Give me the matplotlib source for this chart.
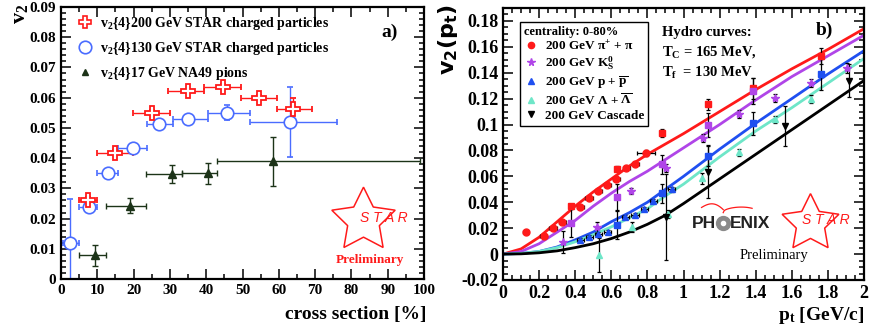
import matplotlib
matplotlib.use("Agg")
import matplotlib.pyplot as plt
from matplotlib.ticker import MultipleLocator
from matplotlib.lines import Line2D
import numpy as np

plt.rcParams['font.family'] = ['Liberation Serif', 'DejaVu Serif']
plt.rcParams['font.weight'] = 'bold'
plt.rcParams['mathtext.fontset'] = 'custom'
plt.rcParams['mathtext.rm'] = 'Liberation Serif:bold'
plt.rcParams['mathtext.it'] = 'Liberation Serif:italic:bold'
plt.rcParams['mathtext.bf'] = 'Liberation Serif:bold'
plt.rcParams['mathtext.default'] = 'rm'

# ---------------- Panel a) data ----------------
a200_x = [7.4, 14.9, 25.0, 35.0, 44.5, 54.5, 64.0]
a200_xlo = [5.0, 9.9, 19.8, 29.5, 39.4, 49.6, 59.5]
a200_xhi = [9.9, 19.8, 30.0, 39.4, 49.6, 59.5, 69.2]
a200_y = [0.0262, 0.0418, 0.0550, 0.0622, 0.0636, 0.0600, 0.0563]
a200_ye = [0.0008, 0.0008, 0.0008, 0.0008, 0.0008, 0.0008, 0.0035]

a130_x = [2.5, 7.7, 13.0, 19.7, 27.0, 35.0, 45.8, 63.0]
a130_xlo = [0.6, 5.0, 10.0, 15.7, 23.6, 30.8, 40.6, 52.0]
a130_xhi = [5.0, 10.0, 15.7, 23.6, 30.8, 40.6, 52.0, 76.0]
a130_y = [0.0119, 0.0238, 0.0350, 0.0433, 0.0512, 0.0530, 0.0550, 0.0520]
a130_ylo = [0.0119, 0.0015, 0.0005, 0.0005, 0.0005, 0.0005, 0.0025, 0.0115]
a130_yhi = [0.0146, 0.0015, 0.0005, 0.0005, 0.0005, 0.0005, 0.0025, 0.0116]

a17_x = [9.4, 19.0, 30.6, 40.6, 58.3]
a17_xlo = [5.0, 12.4, 23.4, 33.3, 43.0]
a17_xhi = [12.4, 23.4, 33.3, 43.0, 99.0]
a17_y = [0.0078, 0.0242, 0.0347, 0.0350, 0.0389]
a17_ye = [0.0036, 0.0025, 0.0030, 0.0035, 0.0080]

# ---------------- Panel b) data ----------------
pi_x = [0.126, 0.225, 0.277, 0.329, 0.428, 0.476, 0.528, 0.578, 0.628, 0.683, 0.733, 0.794]
pi_xe = [0.015, 0.02, 0.02, 0.02, 0.02, 0.02, 0.02, 0.02, 0.02, 0.02, 0.02, 0.05]
pi_y = [0.0172, 0.0139, 0.0198, 0.0250, 0.0365, 0.0435, 0.0487, 0.0533, 0.0580, 0.0666, 0.0692, 0.0780]
pi_ye = [0.0015, 0.0015, 0.0015, 0.0015, 0.0015, 0.0015, 0.0015, 0.0015, 0.0015, 0.0015, 0.0015, 0.0025]

pi_ph_x = [0.379, 0.632, 0.883, 1.134, 1.387, 1.764]
pi_ph_y = [0.0370, 0.0660, 0.0937, 0.1156, 0.1280, 0.1530]
pi_ph_ye = [0.0020, 0.0020, 0.0030, 0.0040, 0.0080, 0.0060]

k_x = [0.332, 0.521, 0.711, 0.905, 1.106, 1.307, 1.507, 1.706, 1.904]
k_y = [0.0090, 0.0206, 0.0487, 0.0666, 0.0898, 0.1080, 0.1207, 0.1318, 0.1439]
k_ye = [0.0085, 0.0040, 0.0020, 0.0030, 0.0030, 0.0030, 0.0030, 0.0030, 0.0040]

k_ph_x = [0.379, 0.632, 0.883, 1.134, 1.387]
k_ph_y = [0.0242, 0.0438, 0.0692, 0.0996, 0.1260]
k_ph_ye = [0.0110, 0.0100, 0.0070, 0.0090, 0.0100]

p_x = [0.428, 0.478, 0.528, 0.579, 0.678, 0.731, 0.783, 0.833, 0.934]
p_y = [0.0108, 0.0134, 0.0154, 0.0172, 0.0288, 0.0301, 0.0347, 0.0411, 0.0499]
p_ye = [0.0015, 0.0015, 0.0015, 0.0015, 0.0015, 0.0015, 0.0015, 0.0015, 0.0020]

p_ph_x = [0.632, 0.883, 1.134, 1.387, 1.764]
p_ph_y = [0.0224, 0.0468, 0.0759, 0.1010, 0.1390]
p_ph_ye = [0.0110, 0.0070, 0.0080, 0.0090, 0.0120]

lam_x = [0.534, 0.717, 0.914, 1.104, 1.307, 1.507, 1.706]
lam_y = [-0.0008, 0.0210, 0.0310, 0.0584, 0.0785, 0.1040, 0.1200]
lam_ye = [0.0130, 0.0040, 0.0030, 0.0040, 0.0030, 0.0030, 0.0030]

xi_x = [0.903, 1.134, 1.562, 1.919]
xi_y = [0.0288, 0.0636, 0.0988, 0.1340]
xi_ye = [0.0330, 0.0200, 0.0155, 0.0130]

# hydro curves
hx = [0, 0.1, 0.2, 0.3, 0.4, 0.5, 0.6, 0.7, 0.8, 0.9, 1.0, 1.2, 1.4, 1.6, 1.8, 2.0]
h_pi = [0, 0.004, 0.013, 0.025, 0.037, 0.048, 0.058, 0.068, 0.077, 0.085, 0.093, 0.110, 0.127, 0.143, 0.158, 0.174]
h_k = [0, 0.002, 0.008, 0.017, 0.026, 0.037, 0.047, 0.056, 0.064, 0.073, 0.082, 0.100, 0.119, 0.137, 0.153, 0.169]
h_p = [0, 0.0005, 0.002, 0.0055, 0.011, 0.017, 0.025, 0.032, 0.040, 0.050, 0.060, 0.081, 0.101, 0.120, 0.139, 0.157]
h_lam = [0, 0.0005, 0.002, 0.005, 0.0095, 0.015, 0.021, 0.028, 0.035, 0.045, 0.054, 0.075, 0.095, 0.113, 0.132, 0.151]
h_xi = [0, 0.0002, 0.001, 0.0025, 0.005, 0.008, 0.012, 0.017, 0.023, 0.030, 0.039, 0.058, 0.077, 0.096, 0.115, 0.134]

RED = '#ff1a1a'
BLUE_A = '#4a6cff'
DGREEN = '#1c3318'
PURPLE = '#b045e8'
BLUE = '#1f4ff0'
CYAN = '#6ee6c8'

fig = plt.figure(figsize=(8.72, 3.33), dpi=100)
axa = fig.add_axes([61/872, 1-279/333, 363/872, 272/333])
axb = fig.add_axes([503/872, 1-280/333, 361/872, 272/333])

def style(ax, fs):
    for s in ax.spines.values():
        s.set_linewidth(1.6)
    ax.tick_params(which='both', direction='in', top=True, right=True, width=1.1, labelsize=fs)
    ax.tick_params(which='major', length=7)
    ax.tick_params(which='minor', length=3.5)
    for lab in ax.get_xticklabels() + ax.get_yticklabels():
        lab.set_fontweight('bold')

# ---------- Panel a ----------
def xerr(x, lo, hi):
    return [np.array(x) - np.array(lo), np.array(hi) - np.array(x)]

axa.errorbar(a17_x, a17_y, xerr=xerr(a17_x, a17_xlo, a17_xhi), yerr=a17_ye, fmt='^', color=DGREEN,
             ms=6, elinewidth=1.0, capsize=2.5, capthick=1.0)
axa.errorbar(a130_x, a130_y, xerr=xerr(a130_x, a130_xlo, a130_xhi), yerr=[a130_ylo, a130_yhi], fmt='o',
             color=BLUE_A, mfc='white', mec=BLUE_A, ms=9, mew=1.2, elinewidth=1.0, capsize=2.5, capthick=1.0)
axa.errorbar(a200_x, a200_y, xerr=xerr(a200_x, a200_xlo, a200_xhi), yerr=a200_ye, fmt='P',
             color=RED, mfc='white', mec=RED, ms=9.5, mew=1.3, elinewidth=1.0, capsize=2.5, capthick=1.0)
axa.set_xlim(0, 100)
axa.set_ylim(0, 0.09)
axa.xaxis.set_major_locator(MultipleLocator(10))
axa.xaxis.set_minor_locator(MultipleLocator(5))
axa.yaxis.set_major_locator(MultipleLocator(0.01))
axa.yaxis.set_minor_locator(MultipleLocator(0.002))
axa.set_yticks([0, 0.01, 0.02, 0.03, 0.04, 0.05, 0.06, 0.07, 0.08, 0.09])
axa.set_yticklabels(['0', '0.01', '0.02', '0.03', '0.04', '0.05', '0.06', '0.07', '0.08', '0.09'])
style(axa, 11)

hla = [Line2D([], [], ls='none', marker='P', ms=9, mfc='white', mec=RED, mew=1.2),
       Line2D([], [], ls='none', marker='o', ms=9, mfc='white', mec=BLUE_A, mew=1.2),
       Line2D([], [], ls='none', marker='^', ms=4.5, color=DGREEN)]
laba = ['v$_2${4}200 GeV STAR charged particles',
        'v$_2${4}130 GeV STAR charged particles',
        'v$_2${4}17 GeV NA49 pions']
axa.legend(hla, laba, loc='upper left', bbox_to_anchor=(0.02, 1.0), frameon=False,
           prop={'family': 'Liberation Serif', 'weight': 'bold', 'size': 10},
           handlelength=1.2, handletextpad=0.5, labelspacing=0.55, borderaxespad=0.2)
axa.text(90.6, 0.0817, 'a)', fontsize=14, fontweight='bold', ha='center', va='center')

# STAR logo panel a
axa.plot([83.2], [0.0196], marker=(5, 1, 0), ms=48, mfc='none', mec=RED, mew=1.1, ls='none')
axa.text(89.0, 0.0202, 'S T A R', color=RED, fontsize=10, style='italic', fontweight='normal',
         family='Liberation Sans', ha='center', va='center')
axa.text(85.1, 0.0063, 'Preliminary', color=RED, fontsize=9.5, fontweight='bold', ha='center', va='center')

fig.text(20/872, 1-14/333, 'v$_2$', rotation=90, fontsize=16, fontweight='bold', ha='center', va='center')
fig.text(426/872, 1-315/333, 'cross section [%]', fontsize=14, fontweight='bold', ha='right', va='center')

# ---------- Panel b ----------
axb.plot(hx, h_pi, color=RED, lw=2.0)
axb.plot(hx, h_k, color=PURPLE, lw=2.0)
axb.plot(hx, h_p, color=BLUE, lw=2.0)
axb.plot(hx, h_lam, color=CYAN, lw=2.0)
axb.plot(hx, h_xi, color='black', lw=2.0)

ekw = dict(ecolor='black', elinewidth=0.9, capsize=1.5, capthick=0.9, ls='none')
axb.errorbar(pi_x, pi_y, xerr=pi_xe, yerr=pi_ye, fmt='o', mfc=RED, mec=RED, ms=5, **ekw)
axb.errorbar(pi_ph_x, pi_ph_y, yerr=pi_ph_ye, fmt='s', mfc=RED, mec=RED, ms=4.5, **ekw)
axb.errorbar(k_x, k_y, yerr=k_ye, fmt='*', mfc=PURPLE, mec=PURPLE, ms=6, **ekw)
axb.errorbar(k_ph_x, k_ph_y, yerr=k_ph_ye, fmt='s', mfc=PURPLE, mec=PURPLE, ms=4.5, **ekw)
axb.errorbar(p_x, p_y, xerr=0.02, yerr=p_ye, fmt='^', mfc=BLUE, mec=BLUE, ms=5, **ekw)
axb.errorbar(p_ph_x, p_ph_y, yerr=p_ph_ye, fmt='s', mfc=BLUE, mec=BLUE, ms=4.5, **ekw)
axb.errorbar(lam_x, lam_y, yerr=lam_ye, fmt='^', mfc=CYAN, mec=CYAN, ms=5, **ekw)
axb.errorbar(xi_x, xi_y, yerr=xi_ye, fmt='v', mfc='black', mec='black', ms=5, **ekw)

axb.set_xlim(0, 2)
axb.set_ylim(-0.02, 0.19)
axb.set_xticks([0, 0.2, 0.4, 0.6, 0.8, 1.0, 1.2, 1.4, 1.6, 1.8, 2.0])
axb.set_xticklabels(['0', '0.2', '0.4', '0.6', '0.8', '1', '1.2', '1.4', '1.6', '1.8', '2'])
axb.xaxis.set_minor_locator(MultipleLocator(0.05))
axb.set_yticks([-0.02, 0, 0.02, 0.04, 0.06, 0.08, 0.1, 0.12, 0.14, 0.16, 0.18])
axb.set_yticklabels(['-0.02', '0', '0.02', '0.04', '0.06', '0.08', '0.1', '0.12', '0.14', '0.16', '0.18'])
axb.yaxis.set_minor_locator(MultipleLocator(0.005))
style(axb, 13)

hlb = [Line2D([], [], ls='none', marker='o', ms=4.5, color=RED),
       Line2D([], [], ls='none', marker='*', ms=5.5, color=PURPLE),
       Line2D([], [], ls='none', marker='^', ms=4.5, color=BLUE),
       Line2D([], [], ls='none', marker='^', ms=4.5, color=CYAN),
       Line2D([], [], ls='none', marker='v', ms=4.5, color='black')]
labb = ['200 GeV $\\mathrm{\u03c0}^{+}$ + $\\mathrm{\u03c0}$',
        '200 GeV K$_S^0$',
        '200 GeV p + $\\overline{\\mathrm{p}}$',
        '200 GeV \u039b + $\\overline{\\mathrm{\u039b}}$',
        '200 GeV Cascade']
leg = axb.legend(hlb, labb, loc='upper left', bbox_to_anchor=(0.047, 0.95), frameon=True, fancybox=False,
                 edgecolor='black', framealpha=1,
                 prop={'family': 'Liberation Serif', 'weight': 'bold', 'size': 9.5},
                 title='centrality: 0-80%', title_fontproperties={'family': 'Liberation Serif', 'weight': 'bold', 'size': 9},
                 handlelength=1.0, handletextpad=0.6, labelspacing=0.15, borderpad=0.3, borderaxespad=0.0)
leg._legend_box.align = 'left'
leg.get_frame().set_linewidth(1.0)

axb.text(0.88, 0.171, 'Hydro curves:', fontsize=10.5, fontweight='bold', ha='left', va='center')
axb.text(0.88, 0.156, 'T$_C$ = 165 MeV,', fontsize=10.5, fontweight='bold', ha='left', va='center')
axb.text(0.88, 0.140, 'T$_f$  = 130 MeV', fontsize=10.5, fontweight='bold', ha='left', va='center')
axb.text(1.78, 0.173, 'b)', fontsize=14, fontweight='bold', ha='center', va='center')

# PHOENIX logo
axb.text(1.18, 0.024, 'PH', fontsize=12.5, fontweight='bold', family='Liberation Sans', color='#222222',
         ha='right', va='center')
axb.plot([1.219], [0.024], marker='o', ms=10, color='#8a8a8a', ls='none')
axb.plot([1.219], [0.024], marker='o', ms=3, color='white', ls='none')
axb.text(1.257, 0.024, 'ENIX', fontsize=12.5, fontweight='bold', family='Liberation Sans', color='#222222',
         ha='left', va='center')
arc_t = np.linspace(0, 1, 30)
axb.plot(1.10 + 0.12 * arc_t, 0.0360 + 0.004 * np.sin(np.pi * arc_t * 0.8) - 0.004 * arc_t ** 2,
         color=RED, lw=0.9)
axb.plot(1.22 + 0.16 * arc_t, 0.0320 + 0.006 * np.sin(np.pi * (0.5 + 0.5 * arc_t) * 0.9) ** 0.5 * arc_t ** 0.4,
         color=RED, lw=0.9)

# STAR logo panel b
axb.plot([1.70], [0.024], marker=(5, 1, 0), ms=43, mfc='none', mec=RED, mew=1.1, ls='none')
axb.text(1.79, 0.026, 'S T A R', color=RED, fontsize=10, style='italic', fontweight='normal',
         family='Liberation Sans', ha='center', va='center')
axb.text(1.50, -0.0008, 'Preliminary', color='black', fontsize=10.5, fontweight='normal', ha='center', va='center')

fig.text(448/872, 1-40/333, 'v$_\\mathbf{2}$(p$_\\mathbf{t}$)', rotation=90, fontsize=16, fontweight='bold',
         family='DejaVu Sans', math_fontfamily='dejavusans', ha='center', va='center')
fig.text(864/872, 1-315/333, 'p$_t$ [GeV/c]', fontsize=14, fontweight='bold', ha='right', va='center')

fig.savefig('out.png', dpi=100)
